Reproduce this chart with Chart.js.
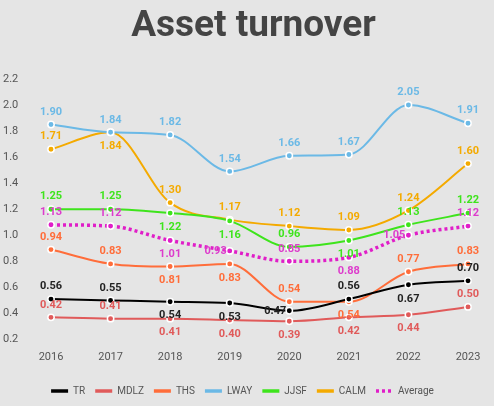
<!DOCTYPE html>
<html>
<head>
<meta charset="utf-8">
<script src="https://cdn.jsdelivr.net/npm/chart.js@4.4.1/dist/chart.umd.min.js"></script>
<style>
    html, body { margin: 0; padding: 0; background: #e5e5e5; }
    #wrap { width: 494px; height: 406px; }
</style>
</head>
<body>
<div id="wrap"><canvas id="turnoverChart"></canvas></div>
<script>
// data
var years = ['2016', '2017', '2018', '2019', '2020', '2021', '2022', '2023'];
var tr    = [0.56, 0.55, 0.54, 0.53, 0.47, 0.56, 0.67, 0.70];
var mdlz  = [0.42, 0.41, 0.41, 0.40, 0.39, 0.42, 0.44, 0.50];
var ths   = [0.94, 0.83, 0.81, 0.83, 0.54, 0.54, 0.77, 0.83];
var lway  = [1.90, 1.84, 1.82, 1.54, 1.66, 1.67, 2.05, 1.91];
var jjsf  = [1.25, 1.25, 1.22, 1.16, 0.96, 1.01, 1.13, 1.22];
var calm  = [1.71, 1.84, 1.30, 1.17, 1.12, 1.09, 1.24, 1.60];
var avg   = [1.13, 1.12, 1.01, 0.93, 0.85, 0.88, 1.05, 1.12];
var yTicks = [0.2, 0.4, 0.6, 0.8, 1.0, 1.2, 1.4, 1.6, 1.8, 2.0, 2.2];

// where each value label sits: t = above, b = below, l = left of the point
var trPos   = ['t', 't', 'b', 'b', 'l', 't', 'b', 't'];
var mdlzPos = ['t', 't', 'b', 'b', 'b', 'b', 'b', 't'];
var thsPos  = ['t', 't', 'b', 'b', 't', 'b', 't', 't'];
var lwayPos = ['t', 't', 't', 't', 't', 't', 't', 't'];
var jjsfPos = ['t', 't', 'b', 'b', 't', 'b', 't', 't'];
var calmPos = ['t', 'b', 't', 't', 't', 't', 't', 't'];
var avgPos  = ['t', 't', 'b', 'l', 't', 'b', 'l', 't'];

function series(label, data, color, textColor, pos) {
    return {
        label: label,
        data: data,
        borderColor: color,
        backgroundColor: color,
        pointBackgroundColor: color,
        pointBorderColor: '#ffffff',
        pointBorderWidth: 1.5,
        pointRadius: 3.2,
        borderWidth: 2,
        cubicInterpolationMode: 'monotone',
        labelColor: textColor,
        labelPos: pos
    };
}

var datasets = [
    series('TR', tr, '#000000', '#222222', trPos),
    series('MDLZ', mdlz, '#e05a5a', '#e05a5a', mdlzPos),
    series('THS', ths, '#ff6d3a', '#ff6d3a', thsPos),
    series('LWAY', lway, '#6bb9e6', '#6bb9e6', lwayPos),
    series('JJSF', jjsf, '#3ee41c', '#3ee41c', jjsfPos),
    series('CALM', calm, '#f4aa00', '#f4aa00', calmPos),
    series('Average', avg, '#e01ec8', '#dd3ccc', avgPos)
];
datasets[6].borderDash = [3, 3];
datasets[6].borderWidth = 3.5;

var valueLabels = {
    id: 'valueLabels',
    // title and legend sit off the canvas middle in the original
    afterLayout: function (chart) {
        chart.titleBlock.left = 39;
        chart.legend.left = 17;
    },
    afterDatasetsDraw: function (chart) {
        var ctx = chart.ctx;
        ctx.save();
        ctx.font = 'bold 11px Roboto';
        ctx.textBaseline = 'middle';
        chart.data.datasets.forEach(function (ds, i) {
            var meta = chart.getDatasetMeta(i);
            if (meta.hidden) return;
            ctx.fillStyle = ds.labelColor;
            meta.data.forEach(function (pt, j) {
                var txt = ds.data[j].toFixed(2);
                var p = ds.labelPos[j];
                if (p === 'l') {
                    ctx.textAlign = 'right';
                    ctx.fillText(txt, pt.x - 3, pt.y);
                } else {
                    ctx.textAlign = 'center';
                    ctx.fillText(txt, pt.x, p === 't' ? pt.y - 12.5 : pt.y + 14);
                }
            });
        });
        ctx.restore();
    }
};

new Chart(document.getElementById('turnoverChart').getContext('2d'), {
    type: 'line',
    data: {
        labels: years,
        datasets: datasets
    },
    plugins: [valueLabels],
    options: {
        responsive: true,
        maintainAspectRatio: false,
        animation: false,
        layout: {
            padding: { left: 3, right: 26, top: 0, bottom: 0 }
        },
        plugins: {
            title: {
                display: true,
                text: 'Asset turnover',
                color: '#444444',
                font: { family: 'Roboto', size: 37, weight: 'bold' },
                padding: { top: 5, bottom: 36 }
            },
            legend: {
                position: 'bottom',
                labels: {
                    color: '#555555',
                    font: { family: 'Roboto', size: 10 },
                    usePointStyle: true,
                    pointStyleWidth: 17,
                    padding: 10,
                    generateLabels: function (chart) {
                        var items = Chart.defaults.plugins.legend.labels.generateLabels(chart);
                        items.forEach(function (it) {
                            var ds = chart.data.datasets[it.datasetIndex];
                            it.pointStyle = 'line';
                            it.lineWidth = 3.5;
                            it.strokeStyle = ds.borderColor;
                            it.lineDash = ds.borderDash || [];
                        });
                        return items;
                    }
                }
            },
            tooltip: { enabled: false }
        },
        scales: {
            x: {
                offset: false,
                grid: { display: false, drawTicks: false },
                border: { display: false },
                ticks: {
                    color: '#555555',
                    font: { family: 'Roboto', size: 11 },
                    padding: 5
                },
                afterFit: function (scale) { scale.height = 30; }
            },
            y: {
                min: 0.2,
                max: 2.2,
                grid: { display: false, drawTicks: false },
                border: { display: false },
                afterBuildTicks: function (scale) {
                    scale.ticks = yTicks.map(function (v) { return { value: v }; });
                },
                afterFit: function (scale) { scale.width = 48; },
                ticks: {
                    color: '#555555',
                    font: { family: 'Roboto', size: 11 },
                    crossAlign: 'far',
                    labelOffset: -6.5,
                    callback: function (v) { return v.toFixed(1); }
                }
            }
        }
    }
});
</script>
</body>
</html>
